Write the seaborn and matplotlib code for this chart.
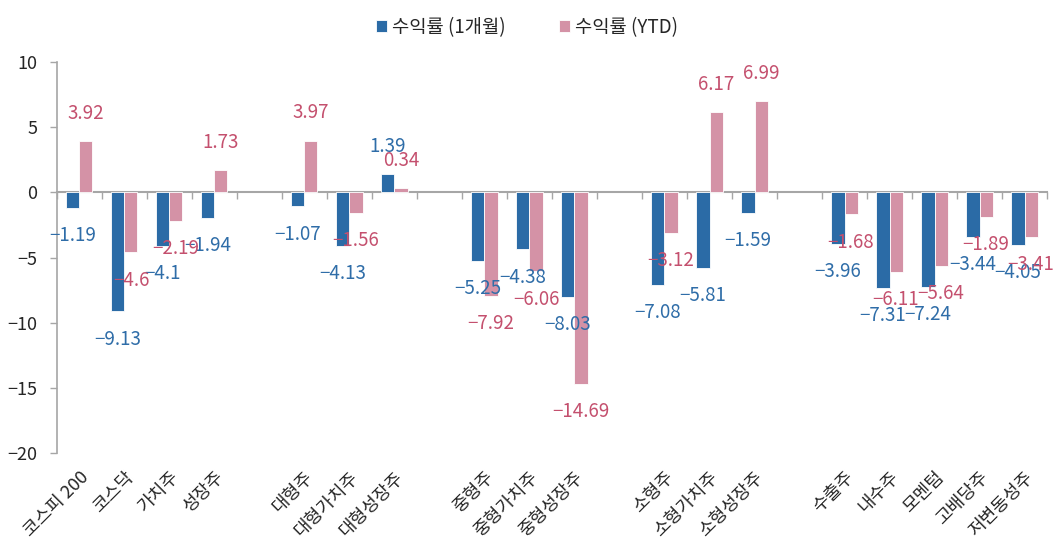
import matplotlib
matplotlib.use("Agg")
import matplotlib.pyplot as plt
import seaborn as sns
import pandas as pd
import numpy as np

# ---- data ----
categories = ["코스피 200", "코스닥", "가치주", "성장주", " ",
              "대형주", "대형가치주", "대형성장주", "  ",
              "중형주", "중형가치주", "중형성장주", "   ",
              "소형주", "소형가치주", "소형성장주", "    ",
              "수출주", "내수주", "모멘텀", "고배당주", "저변동성주"]
gap_names = [" ", "  ", "   ", "    "]
series_names = ["수익률 (1개월)", "수익률 (YTD)"]
ret_1m = [-1.19, -9.13, -4.1, -1.94,
          -1.07, -4.13, 1.39,
          -5.25, -4.38, -8.03,
          -7.08, -5.81, -1.59,
          -3.96, -7.31, -7.24, -3.44, -4.05]
ret_ytd = [3.92, -4.6, -2.19, 1.73,
           3.97, -1.56, 0.34,
           -7.92, -6.06, -14.69,
           -3.12, 6.17, 6.99,
           -1.68, -6.11, -5.64, -1.89, -3.41]
yticks = [10, 5, 0, -5, -10, -15, -20]

data_cats = [c for c in categories if c not in gap_names]
df = pd.DataFrame({
    "cat": data_cats * 2,
    "series": [series_names[0]] * len(data_cats) + [series_names[1]] * len(data_cats),
    "value": ret_1m + ret_ytd,
})

sns.set_theme(style="white")
plt.rcParams["font.family"] = ["Noto Sans CJK KR", "DejaVu Sans"]
plt.rcParams["axes.unicode_minus"] = True

blue = "#2B6BA6"
pink = "#D492A6"
blue_txt = "#2F6DA8"
pink_txt = "#C4506E"
grey = "#A6A6A6"

fig = plt.figure(figsize=(10.54, 5.45), dpi=100)
ax = fig.add_axes([0.054, 0.169, 0.9394, 0.717])

bar_w = 0.58
sns.barplot(data=df, x="cat", y="value", hue="series", order=categories,
            hue_order=series_names, palette=[blue, pink], width=bar_w,
            saturation=1, dodge=True, ax=ax, legend=True,
            edgecolor="white", linewidth=0.6)

ax.set_xlim(-0.5, len(categories) - 0.5)
ax.set_ylim(-20, 10)
ax.set_yticks(yticks)
ax.set_yticklabels([str(t).replace("-", "\u2212") for t in yticks], fontsize=13)
ax.set_xticks(range(len(categories)))
ax.set_xticklabels([c if c not in gap_names else "" for c in categories],
                   rotation=45, ha="right", va="top", rotation_mode="anchor",
                   fontsize=13)
ax.tick_params(axis="x", length=0, pad=11)
ax.tick_params(axis="y", length=5, width=1, color=grey, pad=9, left=True, direction="out")
ax.set_xlabel("")
ax.set_ylabel("")
for s in ["top", "right", "bottom"]:
    ax.spines[s].set_visible(False)
ax.spines["left"].set_color(grey)
ax.spines["left"].set_linewidth(1.2)

# zero axis line with category boundary ticks
zero_frac = (0 - (-20)) / (10 - (-20))
sec = ax.secondary_xaxis(zero_frac)
sec.set_alignment("bottom")
sec.set_xticks(np.arange(-0.5, len(categories), 1.0))
sec.set_xticklabels([])
sec.tick_params(axis="x", length=5, width=1, color=grey, direction="out")
sec.spines["bottom"].set_color(grey)
sec.spines["bottom"].set_linewidth(1.5)

# data labels
half = bar_w / 4
pos = {c: i for i, c in enumerate(categories)}
for vals, off, col in [(ret_1m, -half, blue_txt), (ret_ytd, half, pink_txt)]:
    for c, v in zip(data_cats, vals):
        txt = f"{v:g}".replace("-", "\u2212")
        dy = 20 if v >= 0 else -20
        ax.annotate(txt, (pos[c] + off, v), xytext=(0, dy), textcoords="offset points",
                    ha="center", va="center", color=col, fontsize=13.5)

# legend
leg = ax.get_legend()
handles, labels = ax.get_legend_handles_labels()
leg.remove()
fig.legend(handles, labels, loc="upper center", bbox_to_anchor=(0.5, 1.0), ncol=2,
           frameon=False, fontsize=13.5, handlelength=0.6, handleheight=0.6,
           handletextpad=0.3, columnspacing=2.8)

fig.savefig("out.png", dpi=100)
